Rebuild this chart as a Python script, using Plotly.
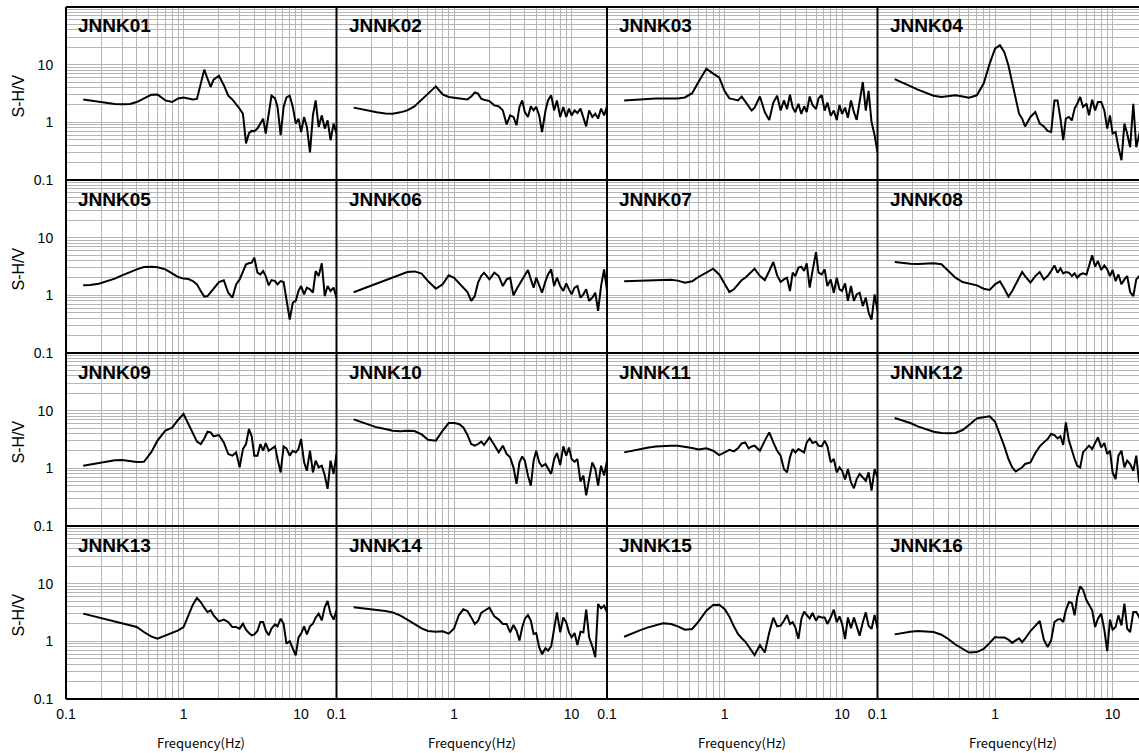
import math
import plotly.graph_objects as go

# ---------------- data ----------------
freq = [0.14, 0.16, 0.19, 0.22, 0.26, 0.3, 0.35, 0.4, 0.46, 0.53,
        0.6, 0.7, 0.8, 0.9, 1.0,
        1.1, 1.2, 1.3, 1.4, 1.5, 1.6, 1.7, 1.8,
        2.0, 2.2, 2.4, 2.6, 2.8, 3.0,
        3.2, 3.4, 3.6, 3.8, 4.0,
        4.25, 4.5, 4.75, 5.0,
        5.3, 5.6, 6.0, 6.3, 6.7, 7.1, 7.5, 8.0,
        8.5, 9.0, 9.5, 10,
        10.6, 11.2, 11.9, 12.6, 13.3, 14.1, 15,
        15.9, 16.8, 17.8, 18.9, 20]

stations = ["JNNK01", "JNNK02", "JNNK03", "JNNK04",
            "JNNK05", "JNNK06", "JNNK07", "JNNK08",
            "JNNK09", "JNNK10", "JNNK11", "JNNK12",
            "JNNK13", "JNNK14", "JNNK15", "JNNK16"]

jnnk01 = [2.5, 2.4, 2.25, 2.15, 2.08, 2.05, 2.08, 2.25, 2.6, 3.0,
          3.05, 2.4, 2.25, 2.6, 2.7,
          2.6, 2.5, 2.55, 5.0, 8.2, 5.7, 4.1, 5.5,
          6.4, 4.4, 2.9, 2.5, 2.1, 1.72,
          1.41, 0.43, 0.65, 0.71, 0.7,
          0.78, 0.95, 1.16, 0.64,
          1.32, 2.9, 2.6, 1.85, 0.6, 1.85, 2.7, 2.9,
          1.85, 0.95, 1.16, 0.68,
          1.24, 0.83, 0.3, 1.32, 2.4, 0.83, 1.32,
          0.78, 1.08, 0.49, 0.95, 0.64]

jnnk02 = [1.8, 1.7, 1.57, 1.49, 1.43, 1.41, 1.49, 1.61, 1.89, 2.47,
          3.2, 4.2, 3.06, 2.75, 2.68,
          2.64, 2.54, 2.5, 2.8, 3.3, 3.14, 2.57, 2.47,
          2.34, 1.97, 1.89, 1.61, 0.92, 1.32,
          1.24, 0.89, 1.85, 2.4, 1.51,
          1.24, 1.89, 1.61, 1.85,
          1.32, 0.68, 1.61, 2.4, 2.94, 1.61, 2.4, 1.24,
          1.85, 1.24, 1.73, 1.32,
          1.61, 1.45, 1.73, 1.24, 0.85, 1.61, 1.24,
          1.41, 1.16, 1.73, 1.32, 1.89]

jnnk03 = [2.4, 2.45, 2.5, 2.55, 2.6, 2.6, 2.6, 2.6, 2.7, 3.2,
          5.0, 8.5, 7.0, 6.0, 3.5,
          2.6, 2.5, 2.4, 2.8, 2.3, 1.9, 1.6, 1.8,
          2.8, 1.5, 1.1, 2.2, 2.9, 1.6,
          2.4, 1.7, 3.0, 1.8, 1.5,
          2.1, 1.4, 1.9, 1.5,
          2.8, 2.0, 1.7, 2.6, 3.0, 1.6, 2.2, 1.3,
          1.6, 1.1, 2.0, 1.4,
          1.8, 1.2, 2.4, 1.5, 1.1, 2.5, 5.0,
          1.6, 3.5, 1.0, 0.6, 0.3]

jnnk04 = [5.6, 5.0, 4.26, 3.68, 3.2, 2.9, 2.75, 2.8, 2.94, 2.8,
          2.68, 2.94, 4.7, 10.4, 19.0,
          21.7, 16.5, 9.7, 5.0, 2.75, 1.41, 1.16, 0.85,
          1.24, 1.51, 0.95, 0.85, 0.71, 0.68,
          2.4, 2.4, 1.16, 0.49, 1.16,
          1.24, 1.08, 1.73, 2.1,
          2.75, 1.85, 2.1, 1.32, 2.47, 1.61, 2.25, 2.25,
          1.61, 0.78, 1.32, 0.64,
          0.68, 0.37, 0.22, 0.95, 0.64, 0.37, 2.1,
          0.37, 0.6, 1.0, 0.7, 0.8]

jnnk05 = [1.49, 1.51, 1.59, 1.75, 1.95, 2.22, 2.54, 2.82, 3.1, 3.14,
          3.06, 2.82, 2.4, 2.08, 1.95,
          1.92, 1.77, 1.55, 1.19, 0.95, 0.97, 1.14, 1.27,
          1.7, 1.82, 1.11, 0.91, 1.55, 1.89,
          2.54, 3.45, 3.6, 3.68, 4.5,
          2.47, 2.3, 2.64, 2.16,
          1.49, 1.84, 1.77, 1.55, 1.77, 1.7, 0.85, 0.38,
          0.75, 0.8, 1.19, 1.45,
          1.04, 1.36, 1.27, 1.11, 2.64, 2.16, 3.6,
          0.97, 1.45, 1.19, 1.36, 0.91]

jnnk06 = [1.13, 1.25, 1.43, 1.59, 1.82, 2.02, 2.28, 2.54, 2.6, 2.38,
          1.77, 1.3, 1.55, 2.22, 2.02,
          1.66, 1.36, 1.14, 0.8, 0.97, 1.66, 2.16, 2.47,
          1.89, 2.47, 2.16, 1.45, 1.89, 2.02,
          1.0, 1.27, 1.55, 1.84, 2.16,
          2.75, 1.89, 1.36, 2.02,
          1.45, 1.11, 1.77, 2.3, 2.82, 1.45, 2.02, 1.45,
          1.19, 1.61, 1.27, 1.04,
          1.36, 1.45, 0.91, 1.04, 1.27, 0.8, 0.91,
          1.11, 0.54, 1.45, 2.82, 1.19]

jnnk07 = [1.75, 1.77, 1.8, 1.82, 1.84, 1.87, 1.87, 1.8, 1.66, 1.75,
          2.08, 2.47, 2.9, 2.3, 1.55,
          1.14, 1.27, 1.55, 1.84, 2.02, 2.3, 2.64, 2.9,
          2.16, 1.84, 2.64, 3.78, 2.22, 1.7,
          1.89, 2.02, 1.19, 2.47, 2.16,
          3.02, 3.14, 2.64, 3.6,
          1.36, 2.64, 5.6, 2.47, 2.3, 2.82, 1.45, 1.89,
          1.11, 2.02, 1.27, 1.19,
          1.61, 0.8, 1.45, 0.8, 1.04, 1.11, 0.65,
          0.91, 0.5, 0.38, 1.04, 0.54]

jnnk08 = [3.79, 3.64, 3.54, 3.49, 3.49, 3.59, 3.45, 2.64, 2.02, 1.7,
          1.61, 1.49, 1.3, 1.24, 1.55,
          1.75, 1.3, 0.95, 1.19, 1.55, 2.1, 2.54, 2.16,
          1.66, 2.16, 2.54, 1.89, 2.16, 2.64,
          3.3, 2.47, 2.94, 2.4, 2.54,
          2.47, 2.16, 2.4, 2.02,
          2.3, 2.4, 2.3, 3.3, 4.94, 3.14, 3.94, 2.75,
          3.3, 2.82, 2.16, 2.75,
          1.77, 2.3, 1.55, 1.89, 2.16, 1.14, 0.97,
          1.89, 2.16, 1.5, 1.8, 1.4]

jnnk09 = [1.11, 1.17, 1.25, 1.32, 1.38, 1.39, 1.34, 1.29, 1.3, 1.89,
          3.02, 4.5, 5.07, 6.97, 8.76,
          5.87, 3.94, 2.9, 2.64, 3.3, 4.32, 4.2, 3.59,
          3.78, 2.82, 1.77, 1.66, 1.89, 1.04,
          2.16, 2.64, 4.8, 3.59, 1.66,
          1.66, 2.64, 2.02, 2.75,
          2.02, 2.16, 2.4, 1.45, 0.85, 2.4, 2.22, 1.66,
          2.02, 1.89, 2.16, 3.22,
          1.27, 0.91, 2.02, 0.85, 1.36, 1.04, 1.11,
          0.75, 0.44, 1.36, 0.8, 1.77]

jnnk10 = [7.07, 6.44, 5.64, 5.14, 4.8, 4.5, 4.38, 4.5, 4.44, 3.88,
          3.14, 3.02, 4.5, 6.1, 6.1,
          5.87, 5.14, 3.78, 2.64, 2.47, 2.64, 2.9, 2.54,
          3.45, 2.54, 1.89, 2.47, 1.77, 1.55,
          1.04, 0.54, 1.27, 1.61, 1.36,
          0.75, 0.5, 1.36, 2.02,
          1.27, 1.08, 1.19, 0.97, 0.8, 1.45, 1.84, 1.14,
          2.4, 1.66, 2.3, 1.45,
          1.3, 1.45, 0.59, 0.75, 0.34, 0.65, 1.27,
          0.97, 0.5, 1.11, 0.75, 1.36]

jnnk11 = [1.89, 2.0, 2.16, 2.28, 2.38, 2.44, 2.47, 2.47, 2.38, 2.25,
          2.13, 2.22, 2.02, 1.7, 1.89,
          2.1, 1.97, 2.22, 2.7, 2.82, 2.22, 2.4, 2.47,
          2.02, 3.02, 4.2, 2.82, 2.02, 1.66,
          0.97, 0.85, 1.55, 2.16, 1.89,
          2.16, 2.02, 1.89, 2.82,
          3.3, 2.75, 2.9, 2.47, 2.4, 3.02, 2.4, 1.27,
          1.45, 0.85, 1.04, 0.91,
          0.64, 0.97, 0.57, 0.45, 0.65, 0.8, 0.7,
          0.61, 0.85, 0.41, 0.97, 0.7]

jnnk12 = [7.45, 6.88, 6.1, 5.34, 4.74, 4.32, 4.1, 4.04, 4.1, 4.62,
          5.64, 7.36, 7.66, 7.98, 6.44,
          3.94, 2.4, 1.45, 1.04, 0.88, 0.95, 1.04, 1.19,
          1.27, 1.84, 2.4, 2.82, 3.22, 3.94,
          3.78, 3.3, 3.59, 2.54, 6.27,
          3.02, 2.02, 1.45, 1.11,
          1.04, 1.89, 2.16, 2.47, 2.16, 2.82, 3.45, 2.3,
          2.75, 1.77, 2.02, 0.85,
          0.65, 1.66, 2.02, 1.04, 1.36, 1.19, 0.91,
          1.66, 0.57, 1.2, 0.8, 1.0]

jnnk13 = [3.02, 2.82, 2.57, 2.41, 2.22, 2.05, 1.89, 1.77, 1.45, 1.22,
          1.11, 1.25, 1.39, 1.55, 1.77,
          2.82, 4.32, 5.64, 4.8, 3.83, 3.22, 3.45, 2.82,
          2.22, 2.38, 2.16, 1.77, 1.77, 1.66,
          2.02, 1.59, 1.39, 1.27, 1.32,
          1.51, 2.16, 2.16, 1.55,
          1.27, 1.66, 1.97, 1.82, 2.47, 2.02, 0.91, 1.01,
          0.78, 0.57, 1.16, 1.36,
          1.82, 1.32, 1.82, 2.02, 2.57, 3.02, 2.32,
          3.94, 5.0, 3.02, 2.38, 3.45]

jnnk14 = [3.89, 3.78, 3.64, 3.49, 3.36, 3.18, 2.79, 2.38, 2.0, 1.68,
          1.51, 1.47, 1.49, 1.36, 1.68,
          2.86, 3.59, 3.36, 2.6, 2.0, 2.25, 3.1, 3.36,
          3.83, 2.71, 2.38, 2.0, 2.0, 1.43,
          1.92, 1.53, 1.03, 1.75, 2.44,
          2.86, 2.28, 1.34, 1.39,
          0.79, 0.6, 0.76, 0.69, 0.82, 1.75, 3.18, 1.43,
          2.6, 2.14, 1.43, 1.17,
          1.39, 0.86, 1.47, 1.43, 3.54, 1.17, 0.82,
          0.53, 4.44, 3.73, 4.15, 3.18]

jnnk15 = [1.2, 1.36, 1.55, 1.73, 1.92, 2.05, 2.0, 1.82, 1.59, 1.64,
          2.19, 3.4, 4.26, 4.32, 3.64,
          2.68, 1.82, 1.34, 1.13, 0.99, 0.82, 0.69, 0.58,
          0.86, 0.64, 1.43, 2.57, 1.82, 1.87,
          2.28, 2.86, 2.0, 2.14, 1.75,
          1.1, 2.44, 3.27, 2.86,
          2.5, 3.1, 2.28, 2.71, 2.6, 2.6, 2.0, 2.6,
          3.54, 2.14, 2.71, 2.0,
          1.1, 2.6, 1.68, 2.6, 1.87, 1.25, 2.14,
          3.18, 1.87, 1.64, 2.86, 1.68]

jnnk16 = [1.32, 1.39, 1.47, 1.51, 1.49, 1.45, 1.3, 1.1, 0.88, 0.73,
          0.64, 0.65, 0.74, 0.94, 1.19,
          1.16, 1.17, 1.07, 0.94, 1.04, 1.13, 0.97, 1.11,
          1.51, 1.89, 2.25, 1.07, 0.8, 1.04,
          2.16, 2.38, 2.44, 2.16, 3.45,
          4.8, 4.62, 2.82, 5.87,
          8.97, 7.85, 5.14, 4.2, 3.45, 1.77, 2.47, 3.02,
          1.59, 0.68, 2.38, 1.59,
          1.77, 2.82, 1.89, 4.5, 1.66, 1.45, 3.22,
          3.22, 2.64, 2.0, 2.5, 1.8]

series = [jnnk01, jnnk02, jnnk03, jnnk04, jnnk05, jnnk06, jnnk07, jnnk08,
          jnnk09, jnnk10, jnnk11, jnnk12, jnnk13, jnnk14, jnnk15, jnnk16]

x_tick_vals = [m * 10 ** e for e in (-1, 0, 1) for m in range(1, 10)] + [20]
y_tick_vals = [m * 10 ** e for e in (-1, 0, 1) for m in range(1, 10)] + [100]
major_labels = {0.1: "0.1", 1: "1", 10: "10"}


def tick_text(vals):
    out = []
    for v in vals:
        lab = ""
        for k, t in major_labels.items():
            if abs(v - k) < 1e-9:
                lab = t
        out.append(lab)
    return out


x_tick_text = tick_text(x_tick_vals)
y_tick_text = tick_text(y_tick_vals)

# ---------------- layout geometry (pixels) ----------------
W, H = 1139, 753
col_edges = [66, 336.5, 607, 877.5, 1148]
row_edges = [7, 180, 353, 526, 699]
decade_px = (col_edges[1] - col_edges[0]) / (math.log10(20) + 1)

FONT = "Liberation Sans, Arial, sans-serif"
GRID = "#b5b5b5"

fig = go.Figure()
layout = dict(width=W, height=H, margin=dict(l=0, r=0, t=0, b=0, pad=0, autoexpand=False),
              paper_bgcolor="white", plot_bgcolor="white", showlegend=False)
annotations = []
shapes = []

for i, (name, vals) in enumerate(zip(stations, series)):
    r, c = divmod(i, 4)
    k = i + 1
    xs = "x" if k == 1 else f"x{k}"
    ys = "y" if k == 1 else f"y{k}"
    x0, x1 = col_edges[c], min(col_edges[c + 1], W)
    y0, y1 = row_edges[r], row_edges[r + 1]
    xmax = -1 + (x1 - x0) / decade_px
    fig.add_trace(go.Scatter(x=freq, y=vals, mode="lines", xaxis=xs, yaxis=ys,
                             line=dict(color="black", width=2), hoverinfo="skip"))
    layout["xaxis" if k == 1 else f"xaxis{k}"] = dict(
        type="log", domain=[x0 / W, x1 / W], range=[-1, xmax], anchor=ys,
        automargin=False,
        tickmode="array", tickvals=x_tick_vals, ticktext=x_tick_text,
        showticklabels=(r == 3), ticks="outside" if r == 3 else "",
        ticklen=2, tickcolor="rgba(0,0,0,0)",
        tickfont=dict(family=FONT, size=14, color="black"),
        showgrid=True, gridcolor=GRID, gridwidth=1, zeroline=False,
        showline=False)
    layout["yaxis" if k == 1 else f"yaxis{k}"] = dict(
        type="log", domain=[1 - y1 / H, 1 - y0 / H], range=[-1, 2], anchor=xs,
        automargin=False,
        tickmode="array", tickvals=y_tick_vals, ticktext=y_tick_text,
        showticklabels=(c == 0), ticks="outside" if c == 0 else "",
        ticklen=9, tickcolor="rgba(0,0,0,0)",
        tickfont=dict(family=FONT, size=14, color="black"),
        showgrid=True, gridcolor=GRID, gridwidth=1, zeroline=False,
        showline=False)
    annotations.append(dict(text=f"<b>{name}</b>", x=(x0 + 10) / W, y=1 - (y0 + 19) / H,
                            xref="paper", yref="paper", xanchor="left", yanchor="middle",
                            showarrow=False, font=dict(family=FONT, size=19, color="black")))

# panel frame lines
for xe in col_edges[:4]:
    shapes.append(dict(type="line", xref="paper", yref="paper",
                       x0=xe / W, x1=xe / W, y0=1 - row_edges[-1] / H, y1=1 - row_edges[0] / H,
                       line=dict(color="black", width=2), layer="above"))
for ye in row_edges:
    shapes.append(dict(type="line", xref="paper", yref="paper",
                       x0=col_edges[0] / W, x1=1, y0=1 - ye / H, y1=1 - ye / H,
                       line=dict(color="black", width=2), layer="above"))

for r in range(4):
    annotations.append(dict(text="S-H/V", x=18 / W, y=1 - ((row_edges[r] + row_edges[r + 1]) / 2 + 3) / H,
                            xref="paper", yref="paper", xanchor="center", yanchor="middle",
                            textangle=-90, showarrow=False,
                            font=dict(family=FONT, size=16, color="black")))
for c in range(4):
    cx = (col_edges[c] + col_edges[c + 1]) / 2
    annotations.append(dict(text="Frequency(Hz)", x=cx / W, y=1 - 742 / H,
                            xref="paper", yref="paper", xanchor="center", yanchor="middle",
                            showarrow=False,
                            font=dict(family="Noto Sans CJK JP, sans-serif", size=13, color="black")))

layout["annotations"] = annotations
layout["shapes"] = shapes
fig.update_layout(**layout)
fig.write_html("out.html")
